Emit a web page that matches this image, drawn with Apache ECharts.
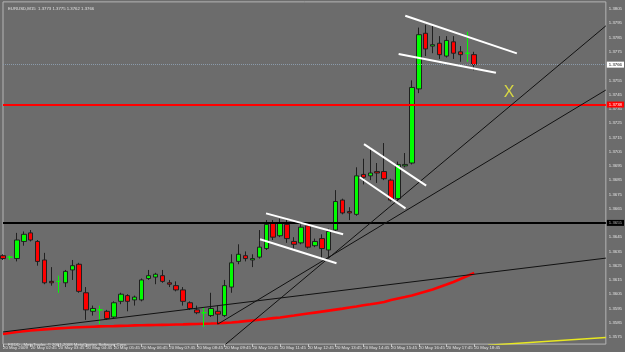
<!DOCTYPE html>
<html><head><meta charset="utf-8">
<script src="https://cdn.jsdelivr.net/npm/echarts@6/dist/echarts.min.js"></script>
<style>html,body{margin:0;padding:0;background:#6c6c6c;}#c{width:625px;height:352px;}</style>
</head><body><div id="c"></div>
<script>
// 15-minute bars, 20 May 2009
const times = ['01:45',
 '02:00','02:15','02:30','02:45','03:00','03:15','03:30','03:45',
 '04:00','04:15','04:30','04:45','05:00','05:15','05:30','05:45',
 '06:00','06:15','06:30','06:45','07:00','07:15','07:30','07:45',
 '08:00','08:15','08:30','08:45','09:00','09:15','09:30','09:45',
 '10:00','10:15','10:30','10:45','11:00','11:15','11:30','11:45',
 '12:00','12:15','12:30','12:45','13:00','13:15','13:30','13:45',
 '14:00','14:15','14:30','14:45','15:00','15:15','15:30','15:45',
 '16:00','16:15','16:30','16:45','17:00','17:15','17:30','17:45',
 '18:00','18:15','18:30','18:45'];
const futureTimes = ['19:00','19:15','19:30','19:45','20:00','20:15','20:30','20:45',
 '21:00','21:15','21:30','21:45','22:00','22:15','22:30','22:45','23:00','23:15','23:30'];

const open = [1.3632,1.3631,1.3630,1.3642,1.3648,1.3642,1.3629,1.3614,1.3614,1.3613,
 1.3622,1.3626,1.3606,1.3593,1.3594,1.3593,1.3589,1.3600,1.3604,1.3601,
 1.3601,1.3616,1.3617,1.3618,1.3613,1.3611,1.3608,1.3599,1.3594,1.3592,
 1.3590,1.3593,1.3590,1.3610,1.3628,1.3632,1.3629,1.3631,1.3637,1.3655,
 1.3646,1.3654,1.3642,1.3641,1.3653,1.3639,1.3644,1.3636,1.3650,1.3671,
 1.3663,1.3661,1.3689,1.3688,1.3691,1.3691,1.3685,1.3672,1.3695,1.3697,
 1.3749,1.3788,1.3779,1.3781,1.3772,1.3782,1.3775,1.3774,1.3773];
const close = [1.3630,1.3631,1.3643,1.3647,1.3643,1.3628,1.3613,1.3613,1.3614,1.3621,
 1.3625,1.3607,1.3594,1.3595,1.3594,1.3588,1.3599,1.3605,1.3600,1.3603,
 1.3615,1.3618,1.3619,1.3614,1.3612,1.3608,1.3600,1.3595,1.3592,1.3592,
 1.3595,1.3591,1.3611,1.3627,1.3633,1.3630,1.3630,1.3638,1.3654,1.3645,
 1.3655,1.3644,1.3640,1.3652,1.3638,1.3642,1.3637,1.3649,1.3670,1.3662,
 1.3662,1.3688,1.3687,1.3690,1.3690,1.3686,1.3671,1.3696,1.3696,1.3750,
 1.3787,1.3777,1.3780,1.3773,1.3783,1.3774,1.3773,1.3774,1.3766];
const low = [1.3629,1.3629,1.3628,1.3639,1.3642,1.3625,1.3612,1.3611,1.3606,1.3610,
 1.3615,1.3606,1.3587,1.3590,1.3584,1.3587,1.3588,1.3598,1.3593,1.3597,
 1.3600,1.3615,1.3612,1.3613,1.3610,1.3607,1.3597,1.3594,1.3591,1.3582,
 1.3589,1.3584,1.3589,1.3606,1.3626,1.3628,1.3624,1.3630,1.3636,1.3643,
 1.3645,1.3641,1.3637,1.3640,1.3637,1.3638,1.3630,1.3631,1.3649,1.3661,
 1.3657,1.3660,1.3682,1.3685,1.3683,1.3685,1.3670,1.3671,1.3694,1.3696,
 1.3746,1.3772,1.3774,1.3770,1.3771,1.3770,1.3768,1.3768,1.3762];
const high = [1.3633,1.3632,1.3648,1.3649,1.3650,1.3643,1.3634,1.3624,1.3618,1.3622,
 1.3629,1.3627,1.3610,1.3597,1.3597,1.3594,1.3600,1.3606,1.3605,1.3604,
 1.3616,1.3622,1.3620,1.3622,1.3615,1.3614,1.3610,1.3600,1.3597,1.3596,
 1.3606,1.3597,1.3615,1.3633,1.3640,1.3635,1.3633,1.3650,1.3657,1.3657,
 1.3658,1.3658,1.3645,1.3654,1.3654,1.3644,1.3647,1.3651,1.3678,1.3672,
 1.3666,1.3694,1.3700,1.3708,1.3697,1.3711,1.3686,1.3698,1.3704,1.3755,
 1.3792,1.3794,1.3794,1.3786,1.3786,1.3786,1.3779,1.3789,1.3775];
// red moving average
const maRed = [1.35771,1.35778,1.35785,1.35790,1.35795,1.35799,1.35803,1.35807,1.35810,1.35813,
 1.35816,1.35818,1.35820,1.35822,1.35824,1.35825,1.35826,1.35828,1.35829,1.35831,
 1.35832,1.35833,1.35834,1.35835,1.35836,1.35837,1.35838,1.35840,1.35841,1.35843,
 1.35844,1.35846,1.35849,1.35852,1.35856,1.35861,1.35866,1.35871,1.35876,1.35882,
 1.35887,1.35894,1.35900,1.35907,1.35914,1.35921,1.35928,1.35935,1.35942,1.35949,
 1.35957,1.35964,1.35972,1.35979,1.35987,1.35995,1.36010,1.36020,1.36030,1.36041,
 1.36055,1.36069,1.36083,1.36101,1.36118,1.36136,1.36157,1.36178,1.36199];

// y-axis tick labels
const yTickLabels = ['1.3575','1.3585','1.3595','1.3605','1.3615','1.3625','1.3635','1.3645',
 '1.3655','1.3665','1.3675','1.3685','1.3695','1.3705','1.3715','1.3725','1.3735','1.3745',
 '1.3755','1.3765','1.3775','1.3785','1.3795','1.3805'];

// horizontal lines (price levels)
const levelBlack = 1.3655;
const levelRed = 1.3738;
const levelBid = 1.3766;

// drawn trend lines: [bar index, price]
const trendShallow = [[0, 1.35785], [87, 1.36303]];
const trendSteepA = [[31, 1.35653], [87, 1.37932]];
const trendSteepB = [[31, 1.3584], [87, 1.37482]];
const flag1Upper = [[37.96, 1.36617], [49.08, 1.36470]];
const flag1Lower = [[37.1, 1.36435], [48.13, 1.36267]];
const flag2Upper = [[52.1, 1.37103], [61.07, 1.36811]];
const flag2Lower = [[51.48, 1.36870], [58.09, 1.36652]];
const flag3Upper = [[58.05, 1.38003], [74.16, 1.37739]];
const flag3Lower = [[57.09, 1.37734], [71.14, 1.37603]];
const yellowLine = [[70, 1.35692], [87, 1.35747]];
const markX = [[73.05, 1.37461]];

const headerText = 'EURUSD,M15  1.3773 1.3775 1.3762 1.3766';
const footerText = 'FXDD - MetaTrader, \u00a9 2001-2008 MetaQuotes Software Corp.';

const allTimes = times.concat(futureTimes);
const candles = times.map((t, i) => [open[i], close[i], low[i], high[i]]);
const lastIdx = times.length - 1;
const FS = 4.3;
const FONT = 'Liberation Sans';

function lineSeries(data, color, width, z) {
  return { type: 'line', xAxisIndex: 1, yAxisIndex: 0, data: data, symbol: 'none',
    silent: true, animation: false, z: z || 5, clip: true,
    lineStyle: { color: color, width: width } };
}
function boxLabel(bg, fg) {
  return { show: true, position: 'end', distance: 1, formatter: p => p.value.toFixed(4),
    backgroundColor: bg, color: fg, fontSize: FS, fontFamily: FONT, padding: [1, 2, 1, 2] };
}

const chart = echarts.init(document.getElementById('c'), null, { renderer: 'canvas' });
chart.setOption({
  backgroundColor: '#6c6c6c',
  animation: false,
  title: [
    { text: headerText, left: 3, top: 2, textStyle: { fontSize: FS, color: '#e0e0e0', fontWeight: 'normal', fontFamily: FONT } },
    { text: footerText, left: 3, top: 338, textStyle: { fontSize: FS, color: '#e0e0e0', fontWeight: 'normal', fontFamily: FONT } }
  ],
  grid: { left: 2, right: 18, top: 1.9, bottom: 7.9, show: true, borderColor: '#b4b4b4', borderWidth: 1 },
  xAxis: [
    { type: 'category', data: allTimes, boundaryGap: false,
      axisLine: { show: false },
      axisTick: { show: true, length: 3, lineStyle: { color: '#c8c8c8' },
        interval: (i) => i % 4 === 0 && i <= lastIdx },
      axisLabel: { show: true, fontSize: FS, color: '#e0e0e0', fontFamily: FONT, align: 'left', margin: 2,
        interval: (i) => i % 4 === 0 && i <= lastIdx,
        formatter: (v, i) => i === 0 ? '20 May 2009' : '20 May ' + v },
      splitLine: { show: false } },
    { type: 'value', min: 0, max: 87, show: false }
  ],
  yAxis: { type: 'value', position: 'right', min: 1.3570, max: 1.3810, interval: 0.0005, scale: true,
    axisLine: { show: false }, axisTick: { show: false }, splitLine: { show: false },
    axisLabel: { fontSize: FS, color: '#e0e0e0', fontFamily: FONT, margin: 3,
      formatter: v => { const s = v.toFixed(4); return yTickLabels.indexOf(s) >= 0 ? s : ''; } } },
  series: [
    { type: 'line', xAxisIndex: 0, data: maRed, symbol: 'none', silent: true, z: 2,
      lineStyle: { color: '#ff0000', width: 2.6 } },
    { type: 'candlestick', xAxisIndex: 0, data: candles, barWidth: 5, z: 3, silent: true,
      itemStyle: { color: '#00ff00', color0: '#ff0000', borderColor: '#202020', borderColor0: '#202020',
        borderColorDoji: '#00ff00', borderWidth: 1 },
      markLine: { symbol: 'none', silent: true, animation: false, precision: 4,
        data: [
          { yAxis: levelBid, lineStyle: { color: '#8a9aaa', width: 1, type: 'dotted' }, label: boxLabel('#ffffff', '#000000') },
          { yAxis: levelRed, lineStyle: { color: '#ff0000', width: 2, type: 'solid' }, label: boxLabel('#ff0000', '#ffffff') },
          { yAxis: levelBlack, lineStyle: { color: '#000000', width: 2, type: 'solid' }, label: boxLabel('#000000', '#b0b0b0') }
        ] } },
    lineSeries(trendShallow, '#111111', 1),
    lineSeries(trendSteepA, '#111111', 1),
    lineSeries(trendSteepB, '#111111', 1),
    lineSeries(flag1Upper, '#ffffff', 2),
    lineSeries(flag1Lower, '#ffffff', 2),
    lineSeries(flag2Upper, '#ffffff', 2),
    lineSeries(flag2Lower, '#ffffff', 2),
    lineSeries(flag3Upper, '#ffffff', 2),
    lineSeries(flag3Lower, '#ffffff', 2),
    lineSeries(yellowLine, '#e8e820', 1.5),
    { type: 'scatter', xAxisIndex: 1, data: markX, symbolSize: 1, silent: true, z: 6,
      itemStyle: { color: 'rgba(0,0,0,0)' },
      label: { show: true, position: 'inside', formatter: 'X', color: '#f2f23a', fontSize: 16, fontFamily: FONT } }
  ]
});
</script>
</body></html>
